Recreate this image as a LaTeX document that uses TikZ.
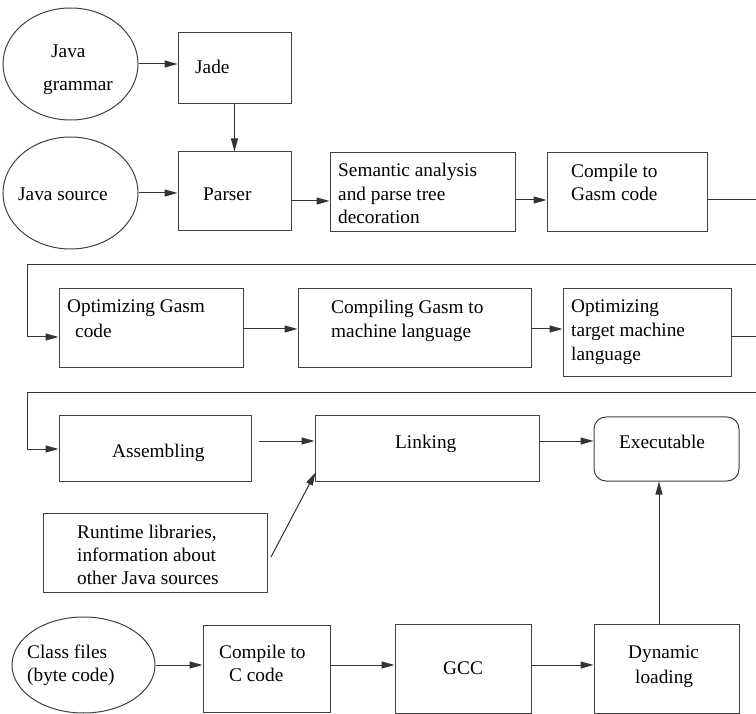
\documentclass[tikz,border=0pt]{standalone}
\usepackage{fontspec}
\setmainfont{Liberation Serif}
\newfontfamily\timesx{Liberation Serif}
\usetikzlibrary{arrows.meta,shapes.geometric}
\begin{document}
\begin{tikzpicture}[x=1pt,y=-1pt,
  box/.style={draw=black!75, line width=1pt, rectangle, inner sep=0pt},
  rbox/.style={box, rounded corners=12pt},
  oval/.style={draw=black!75, line width=1pt, ellipse, inner sep=0pt},
  lbl/.style={anchor=base west, inner sep=0pt, font=\timesx\fontsize{19.3}{23.5}\selectfont},
  arr/.style={draw=black!80, line width=1pt, -{Triangle[length=13pt,width=7pt]}}
]
\useasboundingbox (0,0) rectangle (756,714);

% ellipses
\node[oval, minimum width=135pt, minimum height=112pt] (gram) at (70.5,64) {};
\node[oval, minimum width=135pt, minimum height=112pt] (src) at (70.5,193) {};
\node[oval, minimum width=143pt, minimum height=96pt] (cls) at (83.5,665) {};

% boxes
\node[box, minimum width=113pt, minimum height=71pt] (jade) at (234.5,68.5) {};
\node[box, minimum width=113pt, minimum height=79pt] (parser) at (234.5,191.5) {};
\node[box, minimum width=185pt, minimum height=79pt] (sem) at (422.5,192.5) {};
\node[box, minimum width=160pt, minimum height=79pt] (cg) at (627,192.5) {};
\node[box, minimum width=184pt, minimum height=79pt] (og) at (151,328.5) {};
\node[box, minimum width=233pt, minimum height=79pt] (cm) at (414.5,328.5) {};
\node[box, minimum width=168pt, minimum height=88pt] (ot) at (647,333) {};
\node[box, minimum width=192pt, minimum height=65pt] (asm) at (155,448.5) {};
\node[box, minimum width=224pt, minimum height=65pt] (link) at (427,448.5) {};
\node[rbox, minimum width=145pt, minimum height=64pt] (exe) at (666.5,449) {};
\node[box, minimum width=224pt, minimum height=79pt] (rt) at (155,552.5) {};
\node[box, minimum width=127pt, minimum height=87pt] (cc) at (266.5,668.5) {};
\node[box, minimum width=136pt, minimum height=89pt] (gcc) at (463,668.5) {};
\node[box, minimum width=145pt, minimum height=89pt] (dyn) at (666.5,668.5) {};

% labels
\node[lbl] (tgram1) at (51,58) {Java};
\node[lbl] (tgram2) at (43,91) {grammar};
\node[lbl] (tjade) at (195,74) {Jade};
\node[lbl] (tsrc) at (18,201) {Java source};
\node[lbl] (tparser) at (203,201) {Parser};
\node[lbl] (tsem1) at (338,177) {Semantic analysis};
\node[lbl] (tsem2) at (338,201) {and parse tree};
\node[lbl] (tsem3) at (338,224) {decoration};
\node[lbl] (tcg1) at (571,178) {Compile to};
\node[lbl] (tcg2) at (571,201) {Gasm code};
\node[lbl] (tog1) at (67,313) {Optimizing Gasm};
\node[lbl] (tog2) at (75,338) {code};
\node[lbl] (tcm1) at (331,314) {Compiling Gasm to};
\node[lbl] (tcm2) at (331,338) {machine language};
\node[lbl] (tot1) at (571,313) {Optimizing};
\node[lbl] (tot2) at (571,337) {target machine};
\node[lbl] (tot3) at (571,361) {language};
\node[lbl] (tasm) at (112,457) {Assembling};
\node[lbl] (tlink) at (395,449) {Linking};
\node[lbl] (texe) at (619,449) {Executable};
\node[lbl] (trt1) at (77,538) {Runtime libraries,};
\node[lbl] (trt2) at (77,561) {information about};
\node[lbl] (trt3) at (77,584) {other Java sources};
\node[lbl] (tcls1) at (27,658) {Class files};
\node[lbl] (tcls2) at (27,681) {(byte code)};
\node[lbl] (tcc1) at (219,658) {Compile to};
\node[lbl] (tcc2) at (229,681) {C code};
\node[lbl] (tgcc) at (443,674) {GCC};
\node[lbl] (tdyn1) at (628,658) {Dynamic};
\node[lbl] (tdyn2) at (635,683) {loading};

% helper coordinates
\coordinate (y200) at (0,200);
\coordinate (y201) at (0,201);
\coordinate (y329) at (0,329);
\coordinate (y337) at (0,337);
\coordinate (y449) at (0,449);
\coordinate (y665) at (0,665);
\coordinate (vx) at (659,0);
\coordinate (r1a) at (758,200);
\coordinate (r1b) at (758,265);
\coordinate (l1a) at (27,265);
\coordinate (l1b) at (27,337);
\coordinate (r2a) at (758,337);
\coordinate (r2b) at (758,393);
\coordinate (l2a) at (27,393);
\coordinate (l2b) at (27,449);
\coordinate (astart) at (259,441);
\coordinate (rs) at (271,557);

% connectors
\draw[arr] (gram.east) -- (gram.east -| jade.west);
\draw[arr] (jade.south) -- (parser.north);
\draw[arr] (src.east) -- (src.east -| parser.west);
\draw[arr] (parser.east |- y201) -- (sem.west |- y201);
\draw[arr] (sem.east |- y200) -- (cg.west |- y200);
\draw[arr] (cg.east |- y200) -- (r1a) -- (r1b) -- (l1a) -- (l1b) -- (og.west |- y337);
\draw[arr] (og.east |- y329) -- (cm.west |- y329);
\draw[arr] (cm.east |- y329) -- (ot.west |- y329);
\draw[arr] (ot.east |- y337) -- (r2a) -- (r2b) -- (l2a) -- (l2b) -- (asm.west |- y449);
\draw[arr] (astart) -- (astart -| link.west);
\draw[arr] (link.east |- astart) -- (exe.west |- astart);
\draw[arr] (dyn.north -| vx) -- (exe.south -| vx);
\draw[arr] (rs) -- ([shift={(1,-9)}]link.south west);
\draw[arr] (cls.east |- y665) -- (cc.west |- y665);
\draw[arr] (cc.east |- y665) -- (gcc.west |- y665);
\draw[arr] (gcc.east |- y665) -- (dyn.west |- y665);
\end{tikzpicture}
\end{document}
